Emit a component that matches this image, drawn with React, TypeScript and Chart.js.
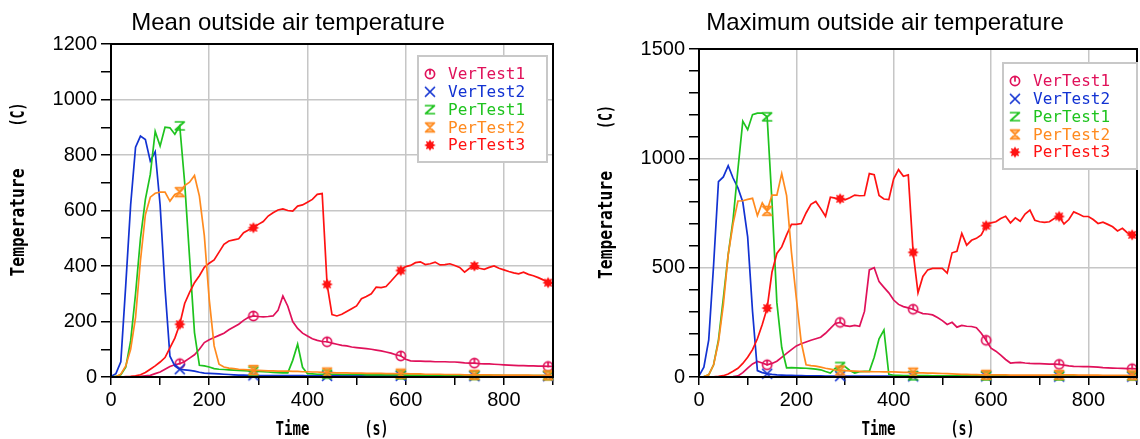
import React, { useEffect, useRef } from 'react';
import { Chart, registerables } from 'chart.js';

Chart.register(...registerables);

// ---------------- data ----------------
const TIMES = [
  0, 10, 20, 30, 40, 50, 60, 70, 80, 90,
  100, 110, 120, 130, 140, 150, 160, 170, 180, 190,
  200, 210, 220, 230, 240, 250, 260, 270, 280, 290,
  300, 310, 320, 330, 340, 350, 360, 370, 380, 390,
  400, 410, 420, 430, 440, 450, 460, 470, 480, 490,
  500, 510, 520, 530, 540, 550, 560, 570, 580, 590,
  600, 610, 620, 630, 640, 650, 660, 670, 680, 690,
  700, 710, 720, 730, 740, 750, 760, 770, 780, 790,
  800, 810, 820, 830, 840, 850, 860, 870, 880, 890,
  900,
];

const MARKER_TIMES = [140, 290, 440, 590, 740, 890];

const SERIES_NAMES = ['VerTest1', 'VerTest2', 'PerTest1', 'PerTest2', 'PerTest3'];
const SERIES_COLORS = ['#e0115a', '#1232d2', '#1ec31e', '#ff8a1e', '#ff1212'];

const MEAN_VERTEST1 = [
  0, 0, 0, 0, 0, 1, 2, 4, 6, 12,
  18, 28, 38, 44, 48, 56, 68, 80, 100, 124,
  134, 142, 150, 158, 170, 180, 190, 204, 215, 220,
  218, 217, 218, 220, 240, 292, 255, 200, 175, 158,
  148, 138, 132, 128, 127, 122, 118, 114, 112, 108,
  106, 104, 102, 100, 97, 94, 90, 86, 80, 76,
  64, 58, 57, 57, 56, 56, 55, 55, 55, 54,
  54, 53, 51, 50, 50, 48, 47, 47, 46, 45,
  44, 43, 42, 41, 41, 40, 40, 39, 39, 38,
  38,
];
const MEAN_VERTEST2 = [
  2, 12, 55, 330, 620, 828, 868, 856, 778, 812,
  620, 320, 75, 40, 28, 26, 24, 21, 17, 14,
  13, 12, 11, 10, 9, 8, 7, 7, 6, 6,
  5, 5, 5, 5, 5, 5, 5, 5, 5, 5,
  4, 4, 4, 4, 4, 4, 4, 4, 4, 4,
  4, 4, 4, 4, 4, 4, 4, 4, 4, 4,
  3, 3, 3, 3, 3, 3, 3, 3, 3, 3,
  3, 3, 3, 3, 3, 3, 3, 3, 3, 3,
  3, 3, 3, 3, 3, 3, 3, 3, 3, 3,
  3,
];
const MEAN_PERTEST1 = [
  0, 2, 8, 35, 130, 300, 500, 640, 730, 885,
  832, 900, 898, 875, 905, 700, 430, 160, 42, 40,
  36, 30, 28, 27, 26, 25, 24, 23, 22, 21,
  20, 19, 18, 17, 16, 15, 15, 60, 118, 35,
  12, 11, 10, 10, 10, 10, 10, 9, 9, 9,
  9, 9, 8, 8, 8, 8, 8, 8, 8, 8,
  7, 7, 7, 7, 7, 7, 7, 7, 7, 7,
  6, 6, 6, 6, 6, 6, 6, 6, 6, 6,
  5, 5, 5, 5, 5, 5, 5, 5, 5, 5,
  5,
];
const MEAN_PERTEST2 = [
  0, 1, 10, 40, 100, 215, 420, 585, 648, 662,
  666, 666, 634, 658, 666, 690, 702, 726, 652, 510,
  280, 112, 46, 36, 32, 30, 28, 27, 26, 25,
  24, 23, 22, 22, 21, 21, 21, 20, 20, 19,
  19, 18, 18, 17, 16, 16, 15, 15, 15, 14,
  14, 14, 13, 13, 13, 13, 12, 12, 12, 12,
  12, 11, 11, 11, 10, 10, 10, 10, 9, 9,
  9, 9, 8, 8, 8, 8, 8, 8, 7, 7,
  7, 7, 7, 7, 7, 7, 6, 6, 6, 6,
  6,
];
const MEAN_PERTEST3 = [
  0, 0, 0, 1, 2, 4, 8, 16, 28, 40,
  54, 70, 105, 140, 190, 265, 305, 340, 365, 395,
  410, 422, 450, 478, 490, 494, 498, 520, 530, 538,
  550, 560, 580, 592, 602, 606, 600, 598, 616, 620,
  630, 640, 658, 661, 334, 225, 220, 226, 236, 246,
  256, 282, 290, 300, 324, 322, 326, 345, 365, 384,
  398, 402, 412, 415, 405, 408, 414, 404, 405, 408,
  402, 395, 378, 392, 400, 392, 388, 395, 400, 392,
  386, 380, 375, 372, 378, 370, 365, 358, 350, 340,
  338,
];

const MAX_VERTEST1 = [
  0, 0, 0, 0, 0, 0, 1, 2, 5, 20,
  41, 60, 71, 64, 56, 62, 72, 90, 108, 125,
  142, 152, 160, 168, 175, 182, 200, 222, 245, 250,
  235, 232, 236, 232, 300, 490, 500, 436, 410, 385,
  352, 332, 322, 316, 310, 298, 290, 288, 284, 272,
  258, 240, 250, 228, 236, 232, 231, 225, 200, 168,
  132, 118, 100, 80, 64, 66, 67, 64, 62, 61,
  61, 60, 59, 59, 58, 54, 51, 49, 48, 47,
  47, 46, 45, 43, 42, 41, 40, 39, 38, 38,
  37,
];
const MAX_VERTEST2 = [
  5, 45, 170, 512, 893, 915, 966, 910, 865, 800,
  641, 300, 29, 20, 15, 12, 10, 9, 8, 7,
  6, 6, 5, 5, 5, 5, 4, 4, 4, 4,
  4, 4, 4, 4, 4, 4, 4, 4, 4, 4,
  3, 3, 3, 3, 3, 3, 3, 3, 3, 3,
  3, 3, 3, 3, 3, 3, 3, 3, 3, 3,
  3, 3, 3, 3, 3, 3, 3, 3, 3, 3,
  2, 2, 2, 2, 2, 2, 2, 2, 2, 2,
  2, 2, 2, 2, 2, 2, 2, 2, 2, 2,
  2,
];
const MAX_PERTEST1 = [
  0, 2, 10, 56, 170, 360, 560, 720, 950, 1170,
  1131, 1200, 1207, 1207, 1190, 800, 340, 135, 42, 43,
  42, 41, 40, 38, 36, 33, 25, 18, 40, 48,
  48, 30, 18, 24, 26, 26, 90, 175, 215, 12,
  8, 7, 6, 6, 6, 6, 6, 6, 5, 5,
  5, 5, 5, 5, 5, 5, 5, 5, 5, 5,
  5, 5, 5, 5, 5, 5, 5, 5, 5, 5,
  5, 5, 5, 5, 5, 5, 5, 5, 5, 5,
  5, 5, 5, 5, 5, 5, 5, 5, 5, 5,
  5,
];
const MAX_PERTEST2 = [
  0, 2, 10, 56, 160, 330, 560, 700, 805, 806,
  812, 817, 738, 796, 760, 832, 832, 930, 830, 570,
  360, 160, 56, 52, 50, 45, 40, 36, 32, 30,
  29, 28, 27, 26, 25, 25, 24, 24, 23, 23,
  23, 22, 21, 21, 20, 19, 19, 18, 18, 17,
  16, 15, 14, 13, 12, 12, 11, 11, 10, 10,
  10, 10, 10, 10, 9, 9, 9, 9, 9, 9,
  9, 9, 9, 10, 10, 10, 10, 10, 9, 9,
  9, 9, 9, 8, 8, 8, 8, 8, 8, 8,
  8,
];
const MAX_PERTEST3 = [
  0, 0, 0, 1, 3, 6, 14, 26, 40, 62,
  90, 125, 175, 240, 315, 480, 565, 595, 650, 698,
  698, 702, 750, 790, 803, 770, 735, 822, 818, 815,
  810, 820, 832, 829, 830, 930, 925, 830, 814, 811,
  906, 948, 918, 924, 570, 385, 460, 490, 497, 497,
  497, 475, 568, 575, 657, 603, 625, 634, 650, 692,
  705, 710, 725, 735, 705, 728, 712, 745, 763, 717,
  710, 707, 710, 725, 734, 700, 720, 755, 745, 734,
  734, 720, 702, 708, 698, 687, 668, 680, 660, 650,
  648,
];

const X_MAX = 900;
const X_TICK_STEP = 100;
const X_LABEL_STEP = 200;
const MEAN_Y_MAX = 1200;
const MEAN_Y_LABEL_STEP = 200;
const MAX_Y_MAX = 1500;
const MAX_Y_LABEL_STEP = 500;
const Y_TICK_STEP = 100;

// ---------------- styling ----------------
const GRID_COLOR = '#c6c6c6';
const TICK_FONT = { family: '"Liberation Sans", Arial, sans-serif', size: 20 };
const TITLE_FONT = '24px "Liberation Sans", Arial, sans-serif';
const AXIS_TITLE_FONT = 'bold 19px "DejaVu Sans Mono", monospace';
const LEGEND_FONT = '16px "DejaVu Sans Mono", monospace';
const SERIES_ORDER = [5, 4, 3, 1, 2];

type MarkerKind = 'circleTick' | 'cross' | 'zee' | 'hourglass' | 'star';
const SERIES_MARKERS: MarkerKind[] = ['circleTick', 'cross', 'zee', 'hourglass', 'star'];

function makeMarker(kind: MarkerKind, color: string): HTMLCanvasElement {
  const c = document.createElement('canvas');
  c.width = 14;
  c.height = 14;
  const g = c.getContext('2d')!;
  g.strokeStyle = color;
  g.fillStyle = color;
  g.lineWidth = 1.7;
  g.lineCap = 'round';
  g.lineJoin = 'round';
  const m = 7;
  g.beginPath();
  if (kind === 'circleTick') {
    g.arc(m, m, 4.6, 0, Math.PI * 2);
    g.moveTo(m, m - 4.6);
    g.lineTo(m, m);
    g.stroke();
  } else if (kind === 'cross') {
    g.moveTo(2.5, 2.5);
    g.lineTo(11.5, 11.5);
    g.moveTo(11.5, 2.5);
    g.lineTo(2.5, 11.5);
    g.stroke();
  } else if (kind === 'zee') {
    g.moveTo(2.5, 3);
    g.lineTo(11.5, 3);
    g.lineTo(2.5, 11);
    g.lineTo(11.5, 11);
    g.stroke();
  } else if (kind === 'hourglass') {
    g.moveTo(2.5, 2.5);
    g.lineTo(11.5, 2.5);
    g.lineTo(2.5, 11.5);
    g.lineTo(11.5, 11.5);
    g.closePath();
    g.globalAlpha = 0.55;
    g.fill();
    g.globalAlpha = 1;
    g.stroke();
  } else {
    for (let i = 0; i < 16; i++) {
      const r = i % 2 === 0 ? 5.8 : 3.4;
      const a = (i * Math.PI) / 8 - Math.PI / 2;
      const px = m + r * Math.cos(a);
      const py = m + r * Math.sin(a);
      if (i === 0) g.moveTo(px, py);
      else g.lineTo(px, py);
    }
    g.closePath();
    g.fill();
  }
  return c;
}

interface PanelCfg {
  left: number;
  title: string;
  titleX: number;
  yMax: number;
  yLabelStep: number;
  yAxisWidth: number;
  padRight: number;
  padTop: number;
  legendX: number;
  legendY: number;
  legendW: number;
  series: number[][];
}

const PANELS: PanelCfg[] = [
  {
    left: 0,
    title: 'Mean outside air temperature',
    titleX: 288,
    yMax: MEAN_Y_MAX,
    yLabelStep: MEAN_Y_LABEL_STEP,
    yAxisWidth: 111,
    padRight: 17,
    padTop: 44,
    legendX: 418,
    legendY: 56,
    legendW: 129,
    series: [MEAN_VERTEST1, MEAN_VERTEST2, MEAN_PERTEST1, MEAN_PERTEST2, MEAN_PERTEST3],
  },
  {
    left: 570,
    title: 'Maximum outside air temperature',
    titleX: 315,
    yMax: MAX_Y_MAX,
    yLabelStep: MAX_Y_LABEL_STEP,
    yAxisWidth: 129,
    padRight: 2,
    padTop: 49,
    legendX: 433,
    legendY: 63,
    legendW: 134,
    series: [MAX_VERTEST1, MAX_VERTEST2, MAX_PERTEST1, MAX_PERTEST2, MAX_PERTEST3],
  },
];

function drawFitted(
  ctx: CanvasRenderingContext2D,
  text: string,
  cx: number,
  cy: number,
  width: number,
  rotate: boolean
) {
  const w0 = ctx.measureText(text).width || 1;
  ctx.save();
  ctx.translate(cx, cy);
  if (rotate) ctx.rotate(-Math.PI / 2);
  ctx.scale(width / w0, 1);
  ctx.textAlign = 'center';
  ctx.fillText(text, 0, 0);
  ctx.restore();
}

function Panel({ cfg }: { cfg: PanelCfg }) {
  const ref = useRef<HTMLCanvasElement | null>(null);

  useEffect(() => {
    const canvas = ref.current;
    if (!canvas) return;
    const markers = SERIES_NAMES.map((_, i) => makeMarker(SERIES_MARKERS[i], SERIES_COLORS[i]));

    const decor = {
      id: 'decor',
      afterDraw(chart: any) {
        const { ctx, chartArea } = chart;
        const a = chartArea;
        ctx.save();
        // frame
        ctx.strokeStyle = '#000';
        ctx.lineWidth = 2;
        ctx.strokeRect(a.left, a.top, a.right - a.left, a.bottom - a.top);
        // title
        ctx.fillStyle = '#000';
        ctx.font = TITLE_FONT;
        ctx.textAlign = 'center';
        ctx.textBaseline = 'alphabetic';
        ctx.fillText(cfg.title, cfg.titleX, 30);
        // axis titles
        const cx = (a.left + a.right) / 2;
        const cy = (a.top + a.bottom) / 2;
        ctx.font = AXIS_TITLE_FONT;
        ctx.textBaseline = 'alphabetic';
        drawFitted(ctx, 'Time', cx - 39.5, 435, 34, false);
        drawFitted(ctx, '(s)', cx + 44.5, 435, 24, false);
        ctx.textBaseline = 'middle';
        drawFitted(ctx, 'Temperature', a.left - 92, cy + 12, 108, true);
        drawFitted(ctx, '(C)', a.left - 92, cy - 96, 24, true);
        // legend
        const lx = cfg.legendX;
        const ly = cfg.legendY;
        const lh = 106;
        ctx.fillStyle = '#fff';
        ctx.fillRect(lx, ly, cfg.legendW, lh);
        ctx.strokeStyle = '#c8c8c8';
        ctx.lineWidth = 2;
        ctx.strokeRect(lx, ly, cfg.legendW, lh);
        ctx.font = LEGEND_FONT;
        ctx.textAlign = 'left';
        ctx.textBaseline = 'middle';
        SERIES_NAMES.forEach((name, i) => {
          const y = ly + 18 + i * 17.8;
          const m = markers[i];
          ctx.drawImage(m, lx + 12 - m.width / 2, y - m.height / 2);
          ctx.fillStyle = SERIES_COLORS[i];
          ctx.fillText(name, lx + 30, y + 1);
        });
        ctx.restore();
      },
    };

    const datasets = SERIES_NAMES.map((name, i) => ({
      label: name,
      data: TIMES.map((t, k) => ({ x: t, y: cfg.series[i][k] })),
      borderColor: SERIES_COLORS[i],
      backgroundColor: SERIES_COLORS[i],
      borderWidth: 1.7,
      tension: 0,
      fill: false,
      clip: false as any,
      order: SERIES_ORDER[i],
      pointStyle: markers[i] as any,
      pointRadius: (c: any) => (c.raw && MARKER_TIMES.includes(c.raw.x) ? 5 : 0),
      pointHoverRadius: 0,
    }));

    const chart = new Chart(canvas, {
      type: 'line',
      data: { datasets },
      plugins: [decor],
      options: {
        responsive: false,
        maintainAspectRatio: false,
        animation: false,
        devicePixelRatio: 1,
        events: [],
        layout: { padding: { left: 0, right: cfg.padRight, top: cfg.padTop, bottom: 0 } },
        plugins: {
          legend: { display: false },
          title: { display: false },
          tooltip: { enabled: false },
        },
        scales: {
          x: {
            type: 'linear',
            min: 0,
            max: X_MAX,
            ticks: {
              stepSize: X_TICK_STEP,
              autoSkip: false,
              maxRotation: 0,
              padding: 3,
              color: '#000',
              font: TICK_FONT,
              callback: (v: any) => (Number(v) % X_LABEL_STEP === 0 ? String(v) : ''),
            },
            grid: {
              color: (c: any) =>
                c.tick && c.tick.value % X_LABEL_STEP === 0 ? GRID_COLOR : 'rgba(0,0,0,0)',
              lineWidth: 1.5,
              tickColor: '#000',
              tickLength: 8,
              tickWidth: 1.5,
            },
            border: { color: '#000', width: 2 },
            afterFit: (s: any) => {
              s.height = 62;
            },
          },
          y: {
            type: 'linear',
            min: 0,
            max: cfg.yMax,
            ticks: {
              stepSize: Y_TICK_STEP,
              autoSkip: false,
              padding: 4,
              color: '#000',
              font: TICK_FONT,
              callback: (v: any) => (Number(v) % cfg.yLabelStep === 0 ? String(v) : ''),
            },
            grid: {
              color: (c: any) =>
                c.tick && c.tick.value % cfg.yLabelStep === 0 ? GRID_COLOR : 'rgba(0,0,0,0)',
              lineWidth: 1.5,
              tickColor: '#000',
              tickLength: 10,
              tickWidth: 1.5,
            },
            border: { color: '#000', width: 2 },
            afterFit: (s: any) => {
              s.width = cfg.yAxisWidth;
            },
          },
        },
      } as any,
    });
    return () => chart.destroy();
  }, [cfg]);

  return (
    <canvas
      ref={ref}
      width={570}
      height={439}
      style={{ position: 'absolute', left: cfg.left, top: 0, width: 570, height: 439 }}
    />
  );
}

export default function App() {
  return (
    <div
      style={{
        position: 'fixed',
        left: 0,
        top: 0,
        width: 1140,
        height: 439,
        background: '#fff',
        overflow: 'hidden',
      }}
    >
      {PANELS.map((p) => (
        <Panel key={p.title} cfg={p} />
      ))}
    </div>
  );
}
